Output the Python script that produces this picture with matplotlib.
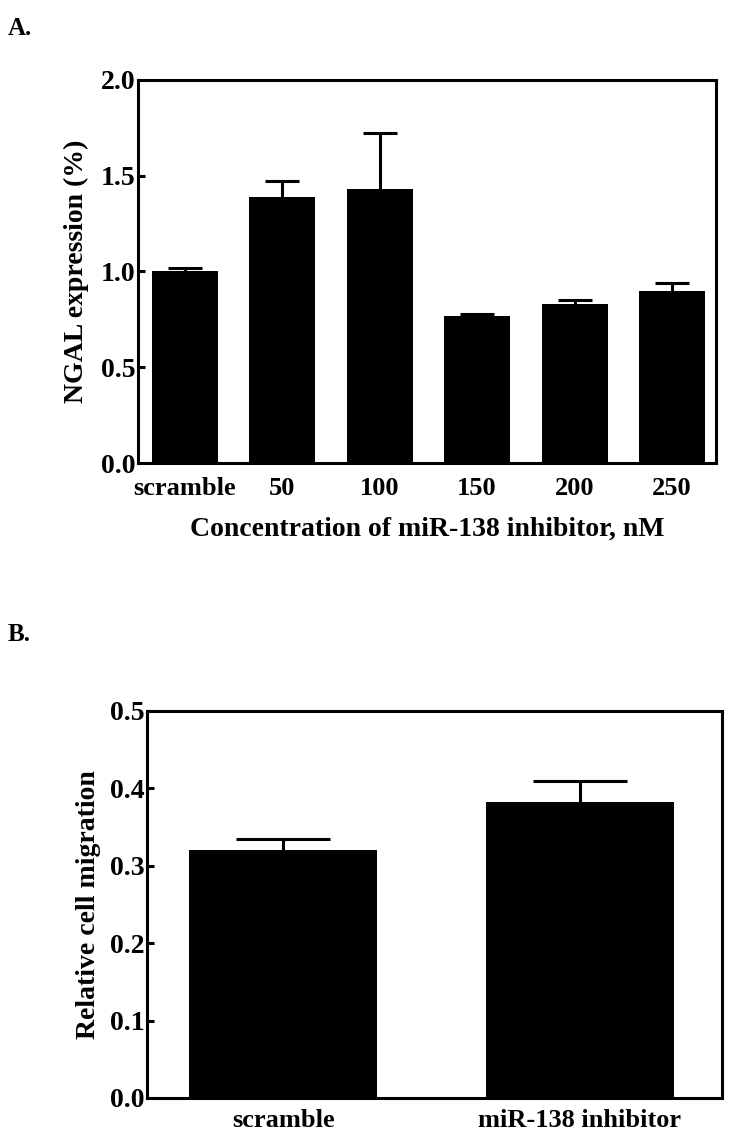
import matplotlib
matplotlib.use('Agg')
import matplotlib.pyplot as plt
import numpy as np

# panel A: NGAL expression vs inhibitor concentration
conc_labels = ['scramble', '50', '100', '150', '200', '250']
ngal_mean = [1.00, 1.39, 1.43, 0.765, 0.83, 0.90]
ngal_err = [0.02, 0.085, 0.295, 0.015, 0.02, 0.04]

# panel B: relative cell migration
mig_labels = ['scramble', 'miR-138 inhibitor']
mig_mean = [0.32, 0.383]
mig_err = [0.015, 0.026]

plt.rcParams['font.family'] = ['Liberation Serif', 'DejaVu Serif']
plt.rcParams['font.weight'] = 'bold'

fig = plt.figure(figsize=(7.32, 11.39), dpi=100)


def style_axes(ax, xsize):
    for side in ['top', 'right', 'bottom', 'left']:
        ax.spines[side].set_linewidth(2.2)
    ax.tick_params(axis='y', direction='in', length=5, width=2.2, pad=2, labelsize=20)
    ax.tick_params(axis='x', length=0, pad=10, labelsize=xsize)
    for lbl in ax.get_yticklabels() + ax.get_xticklabels():
        lbl.set_fontweight('bold')


def upper_errorbar(ax, xs, means, errs, cap):
    # only the upper whisker, like the original figure
    eb = ax.errorbar(xs, means, yerr=[np.zeros(len(errs)), errs], fmt='none',
                     ecolor='black', elinewidth=2.2, capsize=cap, capthick=2.2)
    eb[1][0].set_visible(False)


# panel A
axA = fig.add_axes([0.1885, 0.5935, 0.7896, 0.3363])
x = np.arange(len(conc_labels))
axA.bar(x, ngal_mean, width=0.68, color='black')
upper_errorbar(axA, x, ngal_mean, ngal_err, 12)
axA.set_xlim(-0.48, 5.45)
axA.set_ylim(0, 2.0)
axA.set_yticks([0.0, 0.5, 1.0, 1.5, 2.0])
axA.set_yticklabels(['0.0', '0.5', '1.0', '1.5', '2.0'])
axA.set_xticks(x)
axA.set_xticklabels(conc_labels)
axA.set_ylabel('NGAL expression (%)', fontsize=20, fontweight='bold', labelpad=8)
axA.set_xlabel('Concentration of miR-138 inhibitor, nM', fontsize=20, fontweight='bold', labelpad=12)
style_axes(axA, 19)

# panel B
axB = fig.add_axes([0.2008, 0.036, 0.7855, 0.3398])
xb = np.arange(len(mig_labels))
axB.bar(xb, mig_mean, width=0.635, color='black')
upper_errorbar(axB, xb, mig_mean, mig_err, 34)
axB.set_xlim(-0.46, 1.48)
axB.set_ylim(0, 0.5)
axB.set_yticks([0.0, 0.1, 0.2, 0.3, 0.4, 0.5])
axB.set_yticklabels(['0.0', '0.1', '0.2', '0.3', '0.4', '0.5'])
axB.set_xticks(xb)
axB.set_xticklabels(mig_labels)
axB.set_ylabel('Relative cell migration', fontsize=20, fontweight='bold', labelpad=6)
style_axes(axB, 19)
axB.tick_params(axis='x', pad=8)

fig.text(0.01, 0.975, 'A.', fontsize=18, fontweight='bold', va='center')
fig.text(0.01, 0.443, 'B.', fontsize=18, fontweight='bold', va='center')

fig.savefig('out.png', dpi=100)
